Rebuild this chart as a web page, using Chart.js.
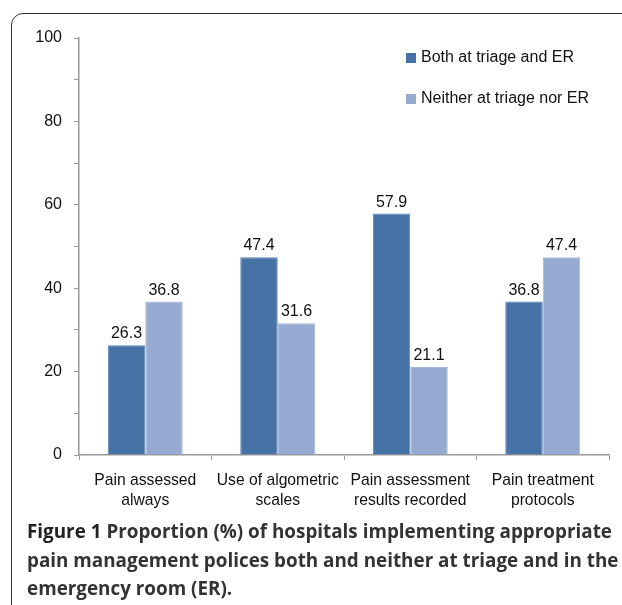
<!DOCTYPE html>
<html>
<head>
<meta charset="utf-8">
<script src="https://cdn.jsdelivr.net/npm/chart.js@4/dist/chart.umd.min.js"></script>
<style>
  body { margin: 0; background: #fff; }
  #wrap { position: relative; width: 622px; height: 605px; overflow: hidden; }
  #frame {
    position: absolute; left: 11px; top: 13px; width: 640px; height: 620px;
    border: 1.5px solid #333; border-top-left-radius: 12px;
  }
  #box { position: absolute; left: 0; top: 0; width: 622px; height: 520px; }
  #caption {
    position: absolute; left: 27px; top: 517px; width: 600px;
    font-family: "Open Sans", sans-serif; font-weight: 700; font-size: 18.85px;
    line-height: 28.5px; color: #333; white-space: nowrap;
  }
  #caption b { font-weight: 700; color: #222; }
</style>
</head>
<body>
<div id="wrap">
  <div id="frame"></div>
  <div id="box"><canvas id="myChart"></canvas></div>
  <div id="caption"><b>Figure 1</b> Proportion (%) of hospitals implementing appropriate<br>pain management polices both and neither at triage and in the<br>emergency room (ER).</div>
</div>
<script>
const categories = [
  ['Pain assessed', 'always'],
  ['Use of algometric', 'scales'],
  ['Pain assessment', 'results recorded'],
  ['Pain treatment', 'protocols']
];
const seriesNames = ['Both at triage and ER', 'Neither at triage nor ER'];
const bothValues = [26.3, 47.4, 57.9, 36.8];
const neitherValues = [36.8, 31.6, 21.1, 47.4];
const yTicks = [0, 20, 40, 60, 80, 100];

const fontFamily = '"Liberation Sans", Arial, sans-serif';

// value labels above each bar
const barLabels = {
  id: 'barLabels',
  afterDatasetsDraw(chart) {
    const ctx = chart.ctx;
    ctx.save();
    ctx.font = '16px ' + fontFamily;
    ctx.fillStyle = '#111';
    ctx.textAlign = 'center';
    ctx.textBaseline = 'alphabetic';
    chart.data.datasets.forEach((ds, i) => {
      chart.getDatasetMeta(i).data.forEach((bar, j) => {
        ctx.fillText(ds.data[j].toFixed(1), bar.x, bar.y - 7);
      });
    });
    ctx.restore();
  }
};

// legend drawn inside the plot, top right
const insideLegend = {
  id: 'insideLegend',
  afterDraw(chart) {
    const ctx = chart.ctx;
    ctx.save();
    ctx.font = '16px ' + fontFamily;
    ctx.textBaseline = 'middle';
    chart.data.datasets.forEach((ds, i) => {
      const y = 58 + i * 41;
      ctx.fillStyle = ds.backgroundColor;
      ctx.fillRect(406, y - 5, 10, 10);
      ctx.fillStyle = '#111';
      ctx.fillText(ds.label, 421, y);
    });
    ctx.restore();
  }
};

let myChart = document.getElementById('myChart').getContext('2d');

let proportionChart = new Chart(myChart, {
  type: 'bar',
  data: {
    labels: categories,
    datasets: [{
      label: seriesNames[0],
      data: bothValues,
      backgroundColor: '#4672a6',
      borderColor: '#5a82b2',
      borderWidth: 1
    }, {
      label: seriesNames[1],
      data: neitherValues,
      backgroundColor: '#95a9d1',
      borderColor: '#a6b8da',
      borderWidth: 1
    }]
  },
  options: {
    responsive: true,
    maintainAspectRatio: false,
    animation: false,
    layout: { padding: { top: 38, right: 13, left: 0, bottom: 0 } },
    plugins: {
      legend: { display: false },
      tooltip: { enabled: false }
    },
    datasets: {
      bar: { categoryPercentage: 0.566, barPercentage: 1 }
    },
    scales: {
      x: {
        grid: { display: true, drawOnChartArea: false, drawTicks: true, tickLength: 5, color: '#999', offset: true },
        border: { display: true, color: '#999', width: 1.5 },
        ticks: {
          color: '#111',
          font: { family: fontFamily, size: 15.7, lineHeight: 1.32 },
          padding: 10,
          maxRotation: 0
        },
        afterFit(scale) { scale.height = 65; }
      },
      y: {
        min: 0,
        max: 100,
        grid: { display: true, drawOnChartArea: false, drawTicks: true, tickLength: 5, color: '#999' },
        border: { display: true, color: '#999', width: 1.5 },
        ticks: {
          stepSize: 10,
          color: '#111',
          padding: 12,
          font: { family: fontFamily, size: 16 },
          callback: v => (yTicks.includes(v) ? v : '')
        },
        afterFit(scale) { scale.width = 79; }
      }
    }
  },
  plugins: [barLabels, insideLegend]
});
</script>
</body>
</html>
